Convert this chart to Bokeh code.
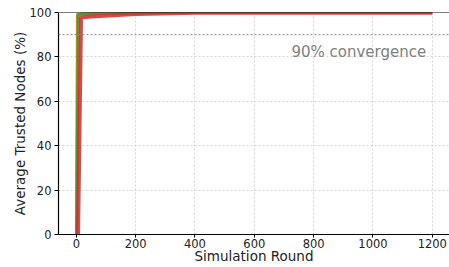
from bokeh.plotting import figure
from bokeh.models import Span, Label, Range1d, FixedTicker
from bokeh.embed import file_html
from bokeh.resources import INLINE

# Data
rounds_gray = [0, 2, 5, 50, 1200]
vals_gray = [0, 99.0, 99.5, 100, 100]

rounds_orange = [0, 4, 10, 100, 1200]
vals_orange = [0, 98.8, 99.3, 99.9, 100]

rounds_green = [1, 7, 15, 100, 300, 1200]
vals_green = [0, 98.6, 99.2, 99.7, 100, 100]

rounds_red = [6, 16, 50, 200, 400, 1200]
vals_red = [0, 97.8, 98.2, 99.3, 99.9, 99.9]

x_ticks = [0, 200, 400, 600, 800, 1000, 1200]
y_ticks = [0, 20, 40, 60, 80, 100]
threshold = 90
label_x, label_y = 725, 78

FONT = "DejaVu Sans"

p = figure(width=449, height=267, output_backend="svg", toolbar_location=None,
           x_range=Range1d(-60, 1258), y_range=Range1d(0, 100),
           min_border_left=58, min_border_top=12, min_border_bottom=33, min_border_right=0)
p.outline_line_color = None
p.background_fill_color = "white"

for xs, ys, c, w in [(rounds_gray, vals_gray, "#7f7f7f", 2),
                     (rounds_orange, vals_orange, "#ff7f0e", 2.5),
                     (rounds_green, vals_green, "#2ca02c", 3),
                     (rounds_red, vals_red, "#d62728", 4)]:
    p.line(xs, ys, line_color=c, line_width=w, line_alpha=0.85)

p.add_layout(Span(location=threshold, dimension="width", line_color="#888888",
                  line_dash="2 2", line_width=1))
p.add_layout(Span(location=100, dimension="width", line_color="black", line_width=1.2))
p.add_layout(Label(x=label_x, y=label_y, text="90% convergence", text_color="#808080",
                   text_font=FONT, text_font_size="15px"))

p.xaxis.ticker = FixedTicker(ticks=x_ticks)
p.yaxis.ticker = FixedTicker(ticks=y_ticks)
for ax in (p.xaxis, p.yaxis):
    ax.axis_line_color = "black"
    ax.axis_line_width = 1.2
    ax.major_tick_line_color = "black"
    ax.major_tick_in = 0
    ax.major_tick_out = 4
    ax.minor_tick_line_color = None
    ax.major_label_text_font = FONT
    ax.major_label_text_font_size = "11.5px"
    ax.major_label_text_color = "#222222"
    ax.axis_label_text_font = FONT
    ax.axis_label_text_font_size = "13.5px"
    ax.axis_label_text_font_style = "normal"
    ax.axis_label_text_color = "#222222"
p.xaxis.axis_label = "Simulation Round"
p.yaxis.axis_label = "Average Trusted Nodes (%)"
p.xaxis.major_tick_out = 3
p.xaxis.major_label_standoff = 1
p.yaxis.major_label_standoff = 3
p.xaxis.axis_label_standoff = -3
p.yaxis.axis_label_standoff = -1

p.xgrid.grid_line_color = "#cccccc"
p.ygrid.grid_line_color = "#cccccc"
p.xgrid.grid_line_dash = "2 2"
p.ygrid.grid_line_dash = "2 2"
p.xgrid.grid_line_width = 0.8
p.ygrid.grid_line_width = 0.8

open("out.html", "w").write(file_html(p, INLINE))
